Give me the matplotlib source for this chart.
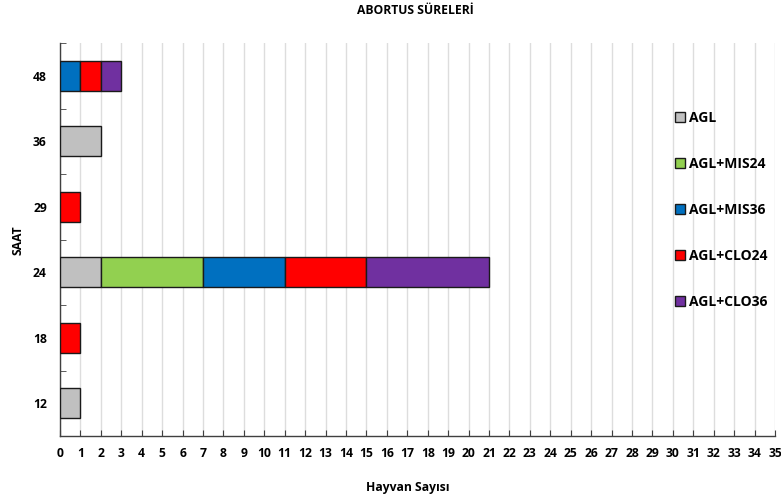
import matplotlib
matplotlib.use("Agg")
import matplotlib.pyplot as plt
import numpy as np

categories = ["12", "18", "24", "29", "36", "48"]
series_names = ["AGL", "AGL+MIS24", "AGL+MIS36", "AGL+CLO24", "AGL+CLO36"]
agl      = [1, 0, 2, 0, 2, 0]
mis24    = [0, 0, 5, 0, 0, 0]
mis36    = [0, 0, 4, 0, 0, 1]
clo24    = [0, 1, 4, 1, 0, 1]
clo36    = [0, 0, 6, 0, 0, 1]
colors = ["#C0C0C0", "#92D050", "#0070C0", "#FF0000", "#7030A0"]
x_ticks = list(range(0, 36))

plt.rcParams['font.family'] = ['Open Sans', 'DejaVu Sans']
plt.rcParams['font.weight'] = 'bold'

fig = plt.figure(figsize=(7.81, 5.01), dpi=100)
ax = fig.add_axes([60/781, 1-436/501, 715/781, 393/501])

y = np.arange(len(categories))
left = np.zeros(len(categories))
handles = []
for name, vals, c in zip(series_names, [agl, mis24, mis36, clo24, clo36], colors):
    vals = np.array(vals, dtype=float)
    mask = vals > 0
    h = ax.barh(y[mask], vals[mask], left=left[mask], height=0.46, color=c,
                edgecolor="#1a1a1a", linewidth=1.0, label=name, zorder=3)
    handles.append(h)
    left += vals

ax.set_xlim(0, 35)
ax.set_ylim(-0.5, len(categories) - 0.5)
ax.set_xticks(x_ticks)
ax.set_xticklabels([str(t) for t in x_ticks], fontsize=8.7, fontweight='bold')
ax.set_yticks(y)
ax.set_yticklabels(categories, fontsize=8.7, fontweight='bold')
ax.set_yticks(np.arange(-0.5, len(categories), 1), minor=True)
ax.tick_params(axis='y', which='major', length=0, pad=9.5)
ax.tick_params(axis='y', which='minor', length=4, direction='in', color='#404040')
ax.tick_params(axis='x', which='major', length=4, direction='in', color='#404040', pad=8)

ax.grid(axis='x', color='#DDDDDD', linewidth=1.0, zorder=0)
ax.set_axisbelow(True)
for s in ['top', 'right']:
    ax.spines[s].set_visible(False)
for s in ['left', 'bottom']:
    ax.spines[s].set_color('#404040')
    ax.spines[s].set_linewidth(1.0)

fig.text(415/781, 1-10/501, "ABORTUS SÜRELERİ", ha='center', va='center',
         fontsize=8.7, fontweight='bold')
fig.text(18/781, 1-240/501, "SAAT", ha='center', va='center', rotation=90,
         fontsize=8.7, fontweight='bold')
fig.text(408/781, 1-488/501, "Hayvan Sayısı", ha='center', va='center',
         fontsize=8.7, fontweight='bold')

leg = ax.legend(handles=handles, labels=series_names, loc='upper left',
                bbox_to_anchor=(664/781, 1-100/501), bbox_transform=fig.transFigure,
                frameon=False, handlelength=0.7, handleheight=0.7, handletextpad=0.3,
                labelspacing=2.3, borderpad=0.3, prop={'size': 10, 'weight': 'bold'})
for h in leg.legend_handles:
    h.set_linewidth(1.0)

fig.savefig("out.png", dpi=100)
